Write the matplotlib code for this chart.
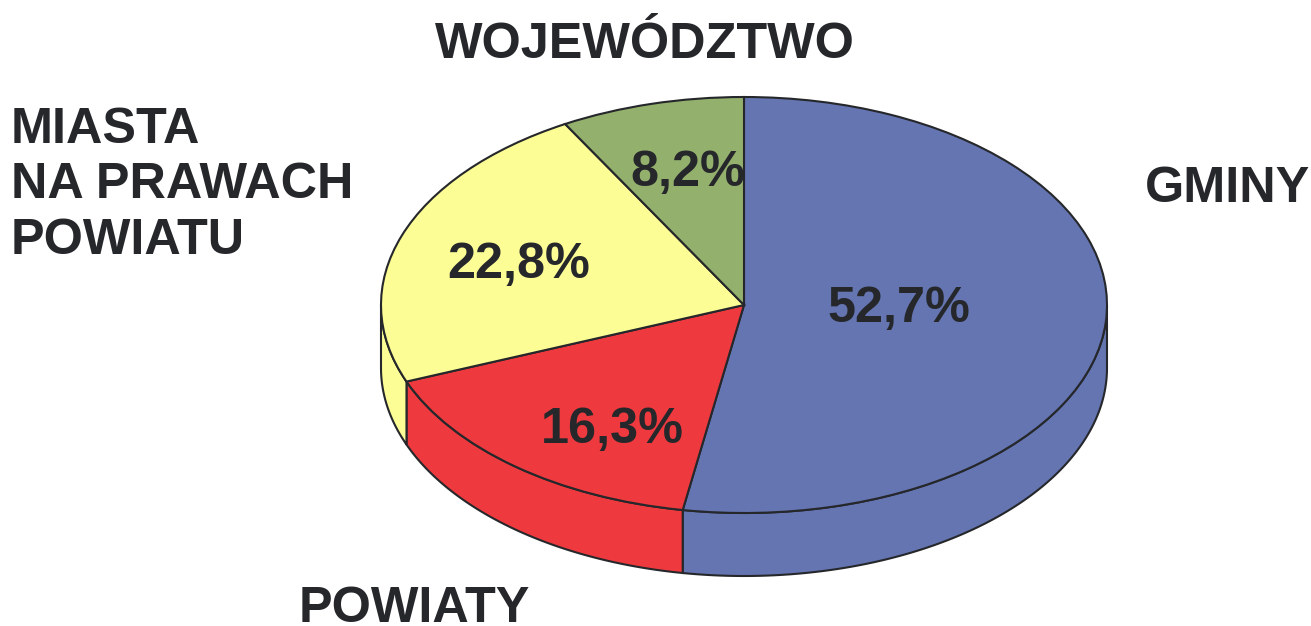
import numpy as np
import matplotlib
matplotlib.use("Agg")
import matplotlib.pyplot as plt

plt.rcParams["font.family"] = "Liberation Sans"

categories = ["GMINY", "POWIATY", "MIASTA\nNA PRAWACH\nPOWIATU", "WOJEWÓDZTWO"]
values = [52.7, 16.3, 22.8, 8.2]
value_labels = ["52,7%", "16,3%", "22,8%", "8,2%"]
colors = ["#6475b1", "#ee3a3e", "#fdfd96", "#94b06d"]

text_color = "#25272b"
W, H = 1311, 626
cx, cy = 744, 305
rx, ry = 363, 208
depth = 63 / ry

fig = plt.figure(figsize=(W / 100, H / 100), dpi=100)
ax = fig.add_axes([0, 0, 1, 1])

wedges, _ = ax.pie(values, colors=colors, startangle=90, counterclock=False,
                   wedgeprops={"edgecolor": text_color, "linewidth": 1.5, "zorder": 3})

# side of the disc: each wedge's arc, only the part below the centre
for w, c in zip(wedges, colors):
    t1 = w.theta1 % 360
    t2 = t1 + (w.theta2 - w.theta1)
    angles = np.linspace(t1, t2, 200)
    angles = angles[(angles % 360 >= 180)]
    if len(angles) == 0:
        continue
    x = np.cos(np.radians(angles))
    y = np.sin(np.radians(angles))
    ax.fill(np.r_[x, x[::-1]], np.r_[y, y[::-1] - depth], facecolor=c,
            edgecolor=text_color, linewidth=1.5, zorder=2)

ax.set_aspect("auto")
ax.set_xlim(-cx / rx, (W - cx) / rx)
ax.set_ylim(-(H - cy) / ry, cy / ry)
ax.axis("off")


def px(x, y):
    return (x - cx) / rx, (cy - y) / ry


# labels on the slices, y is the baseline
value_pos = [(899, 322), (612, 443), (519, 278), (688, 186)]
for lab, (x, y) in zip(value_labels, value_pos):
    ax.text(*px(x, y), lab, fontsize=36.3, fontweight="bold", color=text_color,
            ha="center", va="baseline", zorder=5)

# category labels
cat_pos = [(1145, 202, "left"), (299, 622, "left"), (11, 254, "left"), (645, 58, "center")]
for lab, (x, y, ha) in zip(categories, cat_pos):
    ax.text(*px(x, y), lab, fontsize=36.3, fontweight="bold", color=text_color,
            ha=ha, va="baseline", linespacing=1.27, zorder=5)

fig.savefig("out.png", dpi=100)
